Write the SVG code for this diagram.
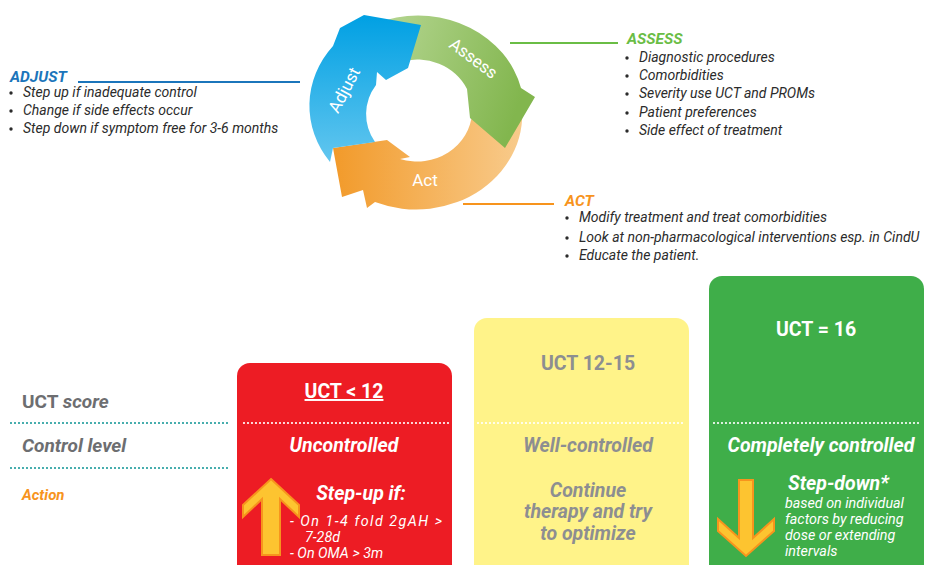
<svg xmlns="http://www.w3.org/2000/svg" width="926" height="565" viewBox="0 0 926 565">
<defs>
<linearGradient id="gBlue" x1="0" y1="0" x2="0" y2="1"><stop offset="0" stop-color="#00a0e3"/><stop offset="1" stop-color="#62c6ef"/></linearGradient>
<linearGradient id="gGreen" x1="0" y1="0" x2="1" y2="0.3"><stop offset="0" stop-color="#b4d590"/><stop offset="1" stop-color="#82b64e"/></linearGradient>
<linearGradient id="gOrange" x1="0" y1="0" x2="1" y2="0"><stop offset="0" stop-color="#f29a2a"/><stop offset="1" stop-color="#f8cb8c"/></linearGradient>
</defs>
<style>
text{font-family:Roboto,"Liberation Sans",sans-serif}
.b{font-size:14px;font-style:italic;fill:#2b2b2b}
.dot{fill:#2b2b2b}
.ring{font-size:17px;fill:#fff}
.hdr{font-size:15.5px;font-weight:bold;font-style:italic}
.lbl{font-size:19px;font-weight:bold;fill:#6d6e71}
.bx{font-size:19.5px;font-weight:bold;text-anchor:middle}
.bi{font-style:italic}
.w{fill:#fff}
.gy{fill:#8d8e91}
.sm{font-size:14.3px;font-style:italic;fill:#fff}
.teal{stroke:#1f9c9c;stroke-width:2.2;stroke-dasharray:0 4;stroke-linecap:round;fill:none}
.wdot{stroke:#fff;stroke-width:2.2;stroke-dasharray:0 4;stroke-linecap:round;fill:none}
.arr{fill:#fdc430;stroke:#f7941d;stroke-width:2;stroke-linejoin:miter}
</style>
<rect width="926" height="565" fill="#fff"/>

<g id="cycle">
<g id="act-arrow"><path d="M521,100 A106 95 0 0 1 375,202 L367,208 L363,190 L342,197 L333,148 L387,140 L410,157 L400,159 A55 51 0 0 0 472,113 Z" fill="url(#gOrange)"/><text class="ring" x="425" y="186" text-anchor="middle" font-size="18">Act</text></g>
<g id="assess-arrow"><path d="M386,20 A106 95 0 0 1 521,88 L535,97 L505,148 L470,118 L467,89 A55 51 0 0 0 400,62 Z" fill="url(#gGreen)"/><text class="ring" x="473" y="64" text-anchor="middle" transform="rotate(37 473 59)">Assess</text></g>
<g id="adjust-arrow"><path d="M375,142 L333,148 L330,162 A106 95 0 0 1 333,46 L340,28 L364,15 L421,25 L408,68 L386,80 L377,72 L376,85 A55 51 0 0 0 375,142 Z" fill="url(#gBlue)"/><text class="ring" x="344" y="96" text-anchor="middle" transform="rotate(-62 344 90)">Adjust</text></g>
</g>

<g id="connectors">
<line x1="78" y1="82" x2="300" y2="82" stroke="#1b75bb" stroke-width="2"/>
<line x1="510" y1="43" x2="618" y2="43" stroke="#6abd45" stroke-width="2"/>
<line x1="463" y1="204" x2="554" y2="204" stroke="#f7941d" stroke-width="2"/>
</g>

<g id="adjust">
<text class="hdr" x="10" y="82" fill="#1b75bb">ADJUST</text>
<circle class="dot" cx="11" cy="93" r="1.7"/><text class="b" x="23" y="97">Step up if inadequate control</text>
<circle class="dot" cx="11" cy="111" r="1.7"/><text class="b" x="23" y="115">Change if side effects occur</text>
<circle class="dot" cx="11" cy="129" r="1.7"/><text class="b" x="23" y="133">Step down if symptom free for 3-6 months</text>
</g>

<g id="assess">
<text class="hdr" x="627" y="44" fill="#6abd45">ASSESS</text>
<circle class="dot" cx="627" cy="58" r="1.7"/><text class="b" x="639" y="62">Diagnostic procedures</text>
<circle class="dot" cx="627" cy="76" r="1.7"/><text class="b" x="639" y="80">Comorbidities</text>
<circle class="dot" cx="627" cy="94" r="1.7"/><text class="b" x="639" y="98">Severity use UCT and PROMs</text>
<circle class="dot" cx="627" cy="113" r="1.7"/><text class="b" x="639" y="117">Patient preferences</text>
<circle class="dot" cx="627" cy="131" r="1.7"/><text class="b" x="639" y="135">Side effect of treatment</text>
</g>

<g id="act">
<text class="hdr" x="565" y="206" fill="#f7941d">ACT</text>
<circle class="dot" cx="567" cy="218" r="1.7"/><text class="b" x="579" y="222">Modify treatment and treat comorbidities</text>
<circle class="dot" cx="567" cy="238" r="1.7"/><text class="b" x="579" y="242">Look at non-pharmacological interventions esp. in CindU</text>
<circle class="dot" cx="567" cy="256" r="1.7"/><text class="b" x="579" y="260">Educate the patient.</text>
</g>

<g id="row-labels">
<text class="lbl" x="22" y="408">UCT <tspan class="bi">score</tspan></text>
<line class="teal" x1="11" y1="423" x2="230" y2="423"/>
<text class="lbl bi" x="22" y="452">Control level</text>
<line class="teal" x1="11" y1="468" x2="230" y2="468"/>
<text x="22" y="500" font-size="15" font-weight="bold" font-style="italic" fill="#f7941d">Action</text>
</g>

<g id="uncontrolled">
<rect x="237" y="363" width="215" height="240" rx="13" fill="#ed1c24"/>
<text class="bx w" x="344" y="398" text-decoration="underline">UCT &lt; 12</text>
<line class="wdot" x1="244" y1="423" x2="450" y2="423"/>
<text class="bx bi w" x="344" y="452">Uncontrolled</text>
<path class="arr" d="M271,479 L299,505 L299,517 L280,499 L280,555 L262,555 L262,499 L243,517 L243,505 Z"/>
<text class="bx bi w" x="361" y="500" font-size="18">Step-up if:</text>
<text class="sm" x="290" y="526" textLength="152" lengthAdjust="spacing">-  On 1-4 fold 2gAH &gt;</text>
<text class="sm" x="305" y="542">7-28d</text>
<text class="sm" x="290" y="558">- On OMA &gt; 3m</text>
</g>

<g id="well-controlled">
<rect x="474" y="318" width="215" height="285" rx="13" fill="#fff389"/>
<text class="bx gy" x="588" y="370">UCT 12-15</text>
<line class="wdot" x1="478" y1="423" x2="685" y2="423"/>
<text class="bx bi gy" x="588" y="452">Well-controlled</text>
<text class="bx bi gy" x="588" y="497">Continue</text>
<text class="bx bi gy" x="588" y="518">therapy and try</text>
<text class="bx bi gy" x="588" y="540">to optimize</text>
</g>

<g id="completely-controlled">
<rect x="709" y="276" width="215" height="327" rx="13" fill="#3fae49"/>
<text class="bx w" x="816" y="336">UCT = 16</text>
<line class="wdot" x1="714" y1="423" x2="920" y2="423"/>
<text class="bx bi w" x="821" y="452">Completely controlled</text>
<path class="arr" d="M739,480 L753,480 L753,538 L774,519 L774,531 L746,556 L718,531 L718,519 L739,538 Z"/>
<text x="788" y="490" font-size="19.5" font-weight="bold" font-style="italic" fill="#fff">Step-down*</text>
<text class="sm" x="785" y="508">based on individual</text>
<text class="sm" x="785" y="524">factors by reducing</text>
<text class="sm" x="785" y="540">dose or extending</text>
<text class="sm" x="785" y="556">intervals</text>
</g>
</svg>
